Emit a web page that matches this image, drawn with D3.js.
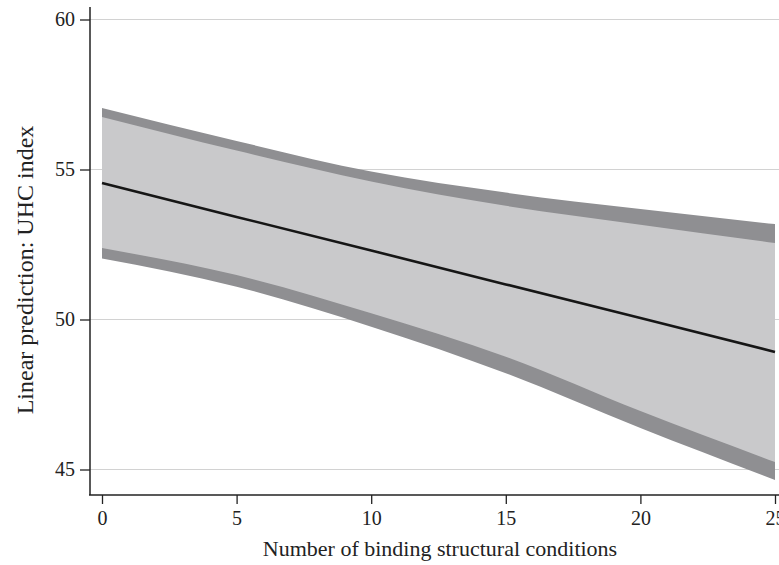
<!DOCTYPE html>
<html>
<head>
<meta charset="utf-8">
<script src="https://cdn.jsdelivr.net/npm/d3@7"></script>
<style>
  body { margin: 0; background: #fff; }
  svg text { font-family: "Liberation Serif", "DejaVu Serif", serif; fill: #222; }
</style>
</head>
<body>
<div id="chart"></div>
<script>
// values
const xValues = [0, 5, 10, 15, 20, 25];
const prediction = [54.55, 53.42, 52.30, 51.17, 50.05, 48.92];
const outerUpper = [57.05, 55.95, 54.93, 54.23, 53.68, 53.18];
const innerUpper = [56.75, 55.63, 54.60, 53.79, 53.16, 52.55];
const innerLower = [52.38, 51.48, 50.21, 48.76, 46.95, 45.25];
const outerLower = [52.03, 51.09, 49.76, 48.21, 46.38, 44.65];
const xTicks = [0, 5, 10, 15, 20, 25];
const yTicks = [45, 50, 55, 60];
const xTitle = "Number of binding structural conditions";
const yTitle = "Linear prediction: UHC index";

const width = 779, height = 565;
const axisX = 90, axisY = 495;   // where the axis lines sit

const svg = d3.select("#chart").append("svg")
    .attr("width", width)
    .attr("height", height);

const x = d3.scaleLinear().domain([0, 25]).range([102, 775]);
const y = d3.scaleLinear().domain([45, 60]).range([469.5, 19.5]);

const rows = xValues.map((v, i) => ({
    x: v,
    fit: prediction[i],
    ou: outerUpper[i], iu: innerUpper[i],
    il: innerLower[i], ol: outerLower[i]
}));

// gridlines
svg.selectAll(".grid")
    .data(yTicks)
    .enter().append("line")
    .attr("class", "grid")
    .attr("x1", axisX)
    .attr("x2", width)
    .attr("y1", d => y(d))
    .attr("y2", d => y(d))
    .attr("stroke", "#d2d2d2")
    .attr("stroke-width", 1);

// outer band (dark) then inner band (light)
const outerArea = d3.area()
    .x(d => x(d.x))
    .y0(d => y(d.ol))
    .y1(d => y(d.ou))
    .curve(d3.curveMonotoneX);

const innerArea = d3.area()
    .x(d => x(d.x))
    .y0(d => y(d.il))
    .y1(d => y(d.iu))
    .curve(d3.curveMonotoneX);

svg.append("path")
    .datum(rows)
    .attr("d", outerArea)
    .attr("fill", "#8f8f92");

svg.append("path")
    .datum(rows)
    .attr("d", innerArea)
    .attr("fill", "#c9c9cb");

// fitted line
svg.append("path")
    .datum(rows)
    .attr("d", d3.line().x(d => x(d.x)).y(d => y(d.fit)))
    .attr("fill", "none")
    .attr("stroke", "#161616")
    .attr("stroke-width", 2.6);

// y axis
const yAxis = svg.append("g")
    .attr("transform", `translate(${axisX},0)`)
    .call(d3.axisLeft(y).tickValues(yTicks).tickSize(10).tickPadding(5));
yAxis.select(".domain").remove();
yAxis.selectAll("line").attr("stroke", "#222").attr("stroke-width", 1.3);
yAxis.selectAll("text").style("font-size", "20px").attr("fill", "#222");

svg.append("line")
    .attr("x1", axisX).attr("x2", axisX)
    .attr("y1", 7).attr("y2", axisY)
    .attr("stroke", "#222").attr("stroke-width", 1.5);

// x axis
const xAxis = svg.append("g")
    .attr("transform", `translate(0,${axisY})`)
    .call(d3.axisBottom(x).tickValues(xTicks).tickSize(9).tickPadding(7));
xAxis.select(".domain").remove();
xAxis.selectAll("line").attr("stroke", "#222").attr("stroke-width", 1.3);
xAxis.selectAll("text").style("font-size", "20px").attr("fill", "#222");

svg.append("line")
    .attr("x1", axisX - 1).attr("x2", width)
    .attr("y1", axisY).attr("y2", axisY)
    .attr("stroke", "#222").attr("stroke-width", 1.5);

// titles
svg.append("text")
    .attr("x", 440)
    .attr("y", 556)
    .attr("text-anchor", "middle")
    .style("font-size", "22px")
    .text(xTitle);

svg.append("text")
    .attr("transform", `translate(33,270) rotate(-90)`)
    .attr("text-anchor", "middle")
    .style("font-size", "24px")
    .text(yTitle);
</script>
</body>
</html>
